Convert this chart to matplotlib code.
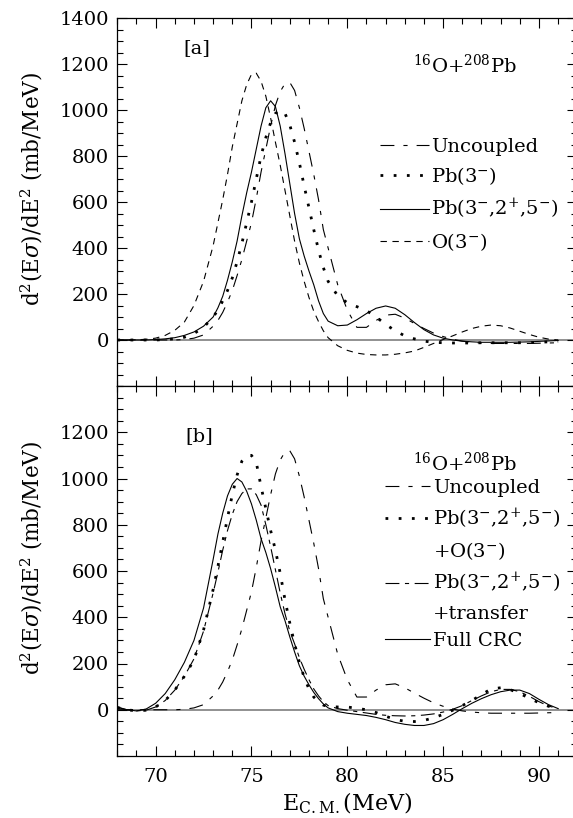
"""Coupled-channels fusion barrier distributions for 16O+208Pb."""
import matplotlib
matplotlib.use('Agg')
import matplotlib.pyplot as plt
from matplotlib.lines import Line2D
from matplotlib.ticker import MultipleLocator

plt.rcParams['font.family'] = 'DejaVu Serif'
plt.rcParams['mathtext.fontset'] = 'dejavuserif'
plt.rcParams['lines.scale_dashes'] = False

# energy grid (MeV), shared by every curve
e_cm = [68, 68.5, 69, 69.5, 70, 70.5, 71, 71.5, 72, 72.5, 73,
        73.25, 73.5, 73.75, 74, 74.25, 74.5, 74.75, 75, 75.25, 75.5, 75.75,
        76, 76.25, 76.5, 76.75, 77, 77.25, 77.5, 77.75, 78, 78.25, 78.5,
        78.75, 79, 79.5, 80, 80.5, 81, 81.5, 82, 82.5, 83, 83.5, 84, 84.5,
        85, 85.5, 86, 86.5, 87, 87.5, 88, 88.5, 89, 89.5, 90, 90.5, 91]

# panel [a]
uncoupled = [0, 0, 0, 0, 0, 0, 0, 2, 8, 22, 60,
             85, 120, 165, 215, 280, 350, 430, 510, 615, 730, 830,
             930, 1020, 1080, 1115, 1120, 1085, 1010, 920, 820, 720, 610,
             480, 400, 240, 130, 55, 55, 85, 108, 112, 95, 72, 50, 30,
             15, 3, -5, -10, -13, -15, -15, -15, -15, -15, -14, -13, -12]
pb3 = [0, 0, 0, 0, 0, 2, 5, 12, 28, 55, 100,
       130, 170, 215, 270, 340, 420, 510, 600, 700, 800, 880,
       945, 985, 1000, 985, 935, 860, 770, 670, 575, 480, 390,
       315, 255, 192, 162, 145, 128, 100, 68, 40, 18, 5, -5, -10,
       -12, -13, -13, -13, -12, -12, -12, -12, -12, -11, -10, -8, -5]
pb325 = [0, 0, 0, 0, 2, 5, 10, 20, 35, 60, 100,
         140, 190, 260, 340, 430, 540, 640, 730, 830, 930, 1010,
         1040, 1015, 930, 810, 680, 550, 440, 365, 300, 240, 170,
         115, 82, 62, 65, 88, 115, 138, 148, 138, 110, 76, 45, 22,
         8, 0, -5, -8, -10, -10, -10, -10, -9, -8, -6, -4, -2]
o3 = [0, 0, 1, 3, 8, 20, 42, 78, 150, 255, 410,
      510, 610, 720, 840, 940, 1040, 1110, 1155, 1160, 1125, 1060,
      965, 860, 760, 650, 540, 430, 335, 255, 185, 125, 80,
      40, 10, -25, -45, -57, -63, -65, -65, -62, -56, -48, -32, -15,
      2, 18, 35, 50, 60, 65, 62, 52, 38, 24, 12, 4, 0]

# panel [b]
pb_o3 = [10, 0, -5, -2, 12, 40, 85, 145, 215, 345, 520,
         620, 725, 830, 930, 1015, 1075, 1100, 1100, 1070, 965, 870,
         775, 690, 590, 475, 375, 285, 205, 140, 90, 55, 35,
         20, 14, 12, 12, 6, 0, -12, -28, -42, -50, -51, -46, -35,
         -20, -2, 18, 40, 65, 90, 95, 87, 70, 50, 30, 15, 5]
pb_transfer = [10, 0, -5, -2, 12, 40, 85, 145, 220, 340, 505,
               595, 690, 775, 845, 900, 935, 955, 955, 930, 885, 800,
               705, 605, 505, 415, 340, 285, 225, 175, 130, 90, 60,
               35, 18, 5, -2, -8, -14, -20, -24, -26, -27, -26, -23, -18,
               -10, 2, 18, 40, 60, 78, 88, 88, 78, 58, 35, 16, 5]
full_crc = [12, 0, -5, 3, 28, 70, 130, 205, 300, 440, 650,
            760, 850, 925, 975, 1000, 985, 945, 890, 820, 740, 680,
            610, 530, 445, 385, 315, 250, 190, 145, 108, 75, 48,
            25, 8, -8, -15, -20, -25, -33, -43, -55, -63, -68, -68, -60,
            -43, -20, 5, 28, 48, 65, 78, 85, 85, 70, 45, 22, 5]

# line styles (dash lengths in points)
UNC = dict(color='k', lw=0.8, dashes=(10, 6.5, 3, 6.5))
DOT = dict(color='k', lw=2.0, dashes=(2.0, 7.5))
SOL = dict(color='k', lw=0.8)
DSH = dict(color='k', lw=0.8, dashes=(4.6, 4.0))
TRF = dict(color='k', lw=0.8, dashes=(10, 4, 3, 4))

fig = plt.figure(figsize=(5.73, 8.18), dpi=100)
W = 460 / 573.
ax1 = fig.add_axes([117.3 / 573, 1 - 386 / 818., W, 368 / 818.])
ax2 = fig.add_axes([117.3 / 573, 1 - 756 / 818., W, 370 / 818.])

for ax in (ax1, ax2):
    ax.set_xlim(68, 92)
    ax.set_ylim(-200, 1400)
    ax.axhline(0, color='0.45', lw=1.1, zorder=1)
    ax.xaxis.set_major_locator(MultipleLocator(5))
    ax.xaxis.set_minor_locator(MultipleLocator(1))
    ax.yaxis.set_major_locator(MultipleLocator(200))
    ax.yaxis.set_minor_locator(MultipleLocator(50))
    ax.tick_params(which='both', direction='in', top=True, right=True,
                   width=0.8, labelsize=14)
    ax.tick_params(which='major', length=7.2)
    ax.tick_params(which='minor', length=4.3)
    ax.tick_params(axis='y', pad=6)
    ax.tick_params(axis='x', pad=9)
    for sp in ax.spines.values():
        sp.set_linewidth(0.9)
    ax.set_ylabel(r'd$^2$(E$\sigma$)/dE$^2$ (mb/MeV)', fontsize=15.5)
    ax.yaxis.set_label_coords(-0.157, 0.535)

ax1.set_yticks([0, 200, 400, 600, 800, 1000, 1200, 1400])
ax2.set_yticks([0, 200, 400, 600, 800, 1000, 1200])
ax1.tick_params(labelbottom=False)

# panel [a]
ax1.plot(e_cm, uncoupled, label='Uncoupled', **UNC)
ax1.plot(e_cm, pb3, label=r'Pb(3$^{-}$)', **DOT)
ax1.plot(e_cm, pb325, label=r'Pb(3$^{-}$,2$^{+}$,5$^{-}$)', **SOL)
ax1.plot(e_cm, o3, label=r'O(3$^{-}$)', **DSH)
ax1.text(0.143, 0.918, '[a]', transform=ax1.transAxes, fontsize=14,
         ha='left', va='center')
ax1.text(0.756, 0.872, r'$^{16}$O+$^{208}$Pb', transform=ax1.transAxes,
         fontsize=14, ha='center', va='center')
ax1.legend(loc='upper left', bbox_to_anchor=(0.571, 0.675), frameon=False,
           fontsize=14, handlelength=2.5, handletextpad=0.15,
           labelspacing=0.5, borderpad=0, borderaxespad=0)

# panel [b]
l_unc, = ax2.plot(e_cm, uncoupled, **UNC)
l_po, = ax2.plot(e_cm, pb_o3, **DOT)
l_tr, = ax2.plot(e_cm, pb_transfer, **TRF)
l_full, = ax2.plot(e_cm, full_crc, **SOL)
blank = Line2D([], [], linestyle='none')
ax2.legend([l_unc, l_po, blank, l_tr, blank, l_full],
           ['Uncoupled', r'Pb(3$^{-}$,2$^{+}$,5$^{-}$)', r'+O(3$^{-}$)',
            r'Pb(3$^{-}$,2$^{+}$,5$^{-}$)', '+transfer', 'Full CRC'],
           loc='upper left', bbox_to_anchor=(0.582, 0.748), frameon=False,
           fontsize=14, handlelength=2.3, handletextpad=0.15,
           labelspacing=0.47, borderpad=0, borderaxespad=0)
ax2.text(0.148, 0.865, '[b]', transform=ax2.transAxes, fontsize=14,
         ha='left', va='center')
ax2.text(0.756, 0.792, r'$^{16}$O+$^{208}$Pb', transform=ax2.transAxes,
         fontsize=14, ha='center', va='center')
ax2.set_xlabel(r'E$_{\rm C.M.}$(MeV)', fontsize=16, labelpad=3)

fig.savefig('out.png', dpi=100)
